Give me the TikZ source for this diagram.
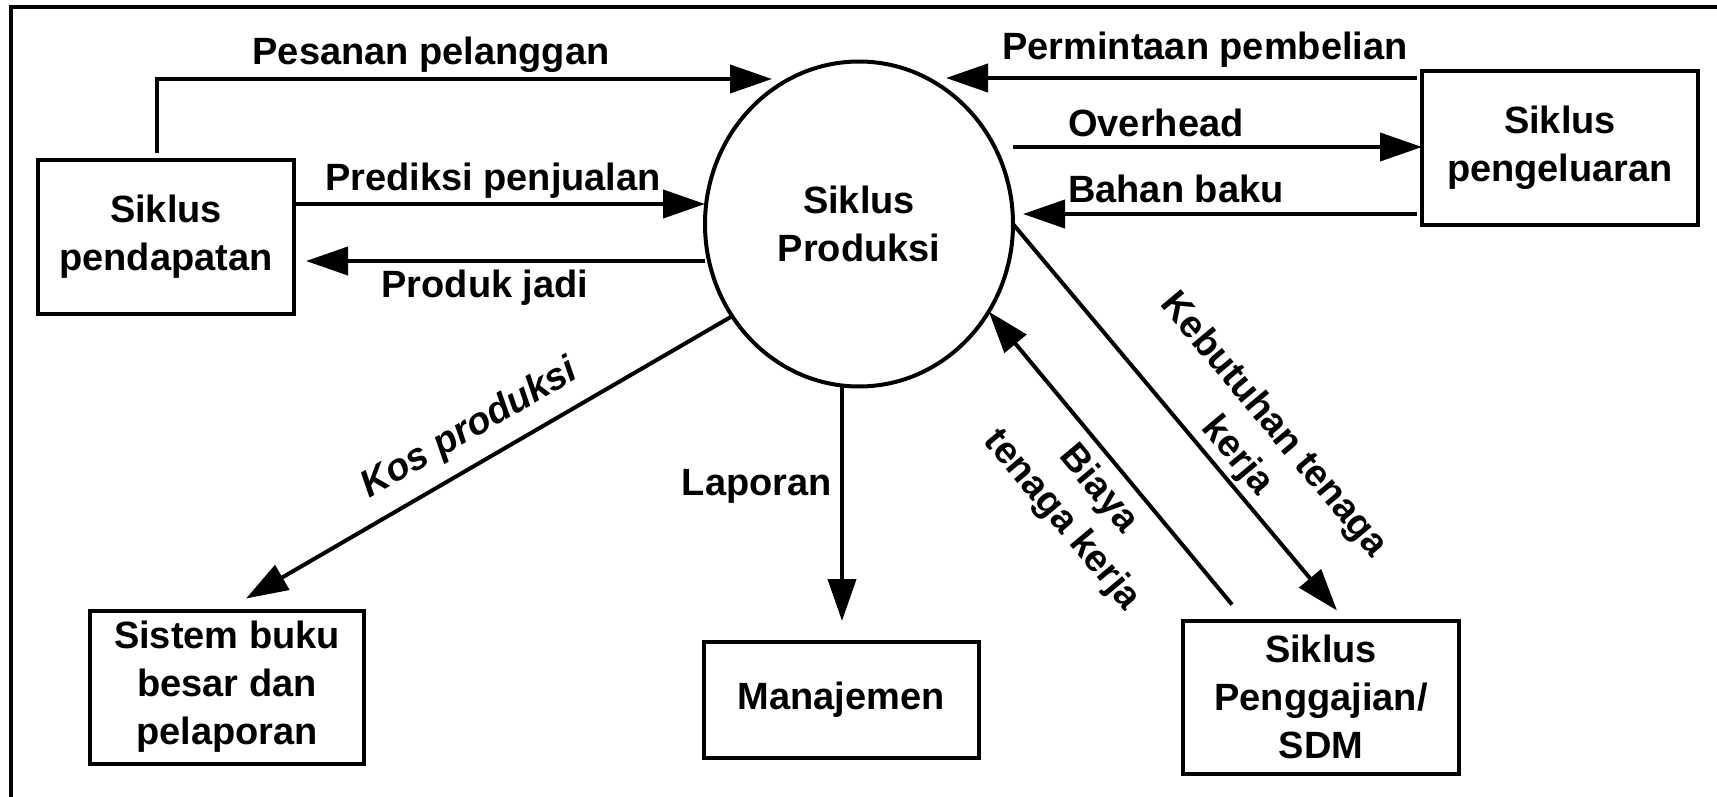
\documentclass[tikz,border=0pt]{standalone}
\usepackage{fontspec}
\setmainfont{Liberation Sans}
\usetikzlibrary{arrows.meta,calc,shapes.geometric}
\begin{document}
\begin{tikzpicture}[x=1pt,y=-1pt,
  txt/.style={font=\fontsize{38pt}{48pt}\selectfont\bfseries},
  lbl/.style={txt, inner sep=0pt},
  box/.style={draw, line width=4pt, align=center, txt, inner sep=0pt, outer sep=0pt},
  arr/.style={line width=4pt, -{Triangle[length=42pt,width=28pt]}},
]
\useasboundingbox (0,0) rectangle (1717,797);
\draw[line width=4.5pt] (1717,7) -- (11,7) -- (11,797);

% nodes
\node[box, minimum width=256pt, minimum height=153pt] (pend) at (166,237) {Siklus\\pendapatan};
\node[box, minimum width=276pt, minimum height=153pt] (peng) at (1560,148) {Siklus\\pengeluaran};
\node[box, minimum width=274pt, minimum height=153pt] (buku) at (227,687) {Sistem buku\\besar dan\\pelaporan};
\node[box, minimum width=275pt, minimum height=116pt] (mgmt) at (841,700) {Manajemen};
\node[box, minimum width=276pt, minimum height=153pt] (sdm) at (1321,697) {Siklus\\Penggajian/\\SDM};
\node[draw, ellipse, line width=4pt, minimum width=308pt, minimum height=325pt,
      inner sep=0pt, outer sep=0pt, align=center, txt] (prod) at (859,224) {Siklus\\Produksi};

% connectors
\coordinate (pesT) at (772,79);
\coordinate (permT) at (946,78);
\draw[arr, shorten <=7pt] (pend.north -| 157,0) |- (pesT);
\draw[arr] (pend.east |- 0,204) -- (prod.west |- 0,204);
\draw[arr, shorten >=12pt] (prod.west |- 0,261) -- (pend.east |- 0,261);
\draw[arr, shorten <=5pt] (peng.west |- 0,78) -- (permT);
\draw[arr] (prod.east |- 0,147) -- (peng.west |- 0,147);
\draw[arr, shorten <=5pt, shorten >=10pt] (peng.west |- 0,214) -- (prod.east |- 0,214);
\draw[arr] (prod.216) -- ([xshift=19pt,yshift=12pt]buku.north);
\draw[arr, shorten >=21pt] (prod.south -| 842,0) -- (mgmt.north -| 842,0);
\draw[arr] (prod.east) -- ([xshift=16pt,yshift=10pt]sdm.north);
\draw[arr] ([xshift=-89pt,yshift=16pt]sdm.north) -- (prod.-34);

% labels
\node[lbl, anchor=base] (lpes) at (431,65) {Pesanan pelanggan};
\node[lbl, anchor=base] (lpred) at (493,190) {Prediksi penjualan};
\node[lbl, anchor=base] (lprod) at (485,297) {Produk jadi};
\node[lbl, anchor=base] (lperm) at (1205,60) {Permintaan pembelian};
\node[lbl, anchor=base west] (lover) at (1068,137) {Overhead};
\node[lbl, anchor=base west] (lbahan) at (1068,202) {Bahan baku};
\node[lbl, anchor=base east] (llap) at (832,495) {Laporan};
\node[lbl, anchor=base, rotate=30, font=\fontsize{38pt}{48pt}\selectfont\bfseries\itshape] (lkos) at (475,438) {Kos produksi};
\node[lbl, rotate=-50, align=center] (lbiaya) at (1080,505) {Biaya\\tenaga kerja};
\node[lbl, rotate=-50, align=center] (lkeb) at (1255,441) {Kebutuhan tenaga\\kerja};
\end{tikzpicture}
\end{document}
